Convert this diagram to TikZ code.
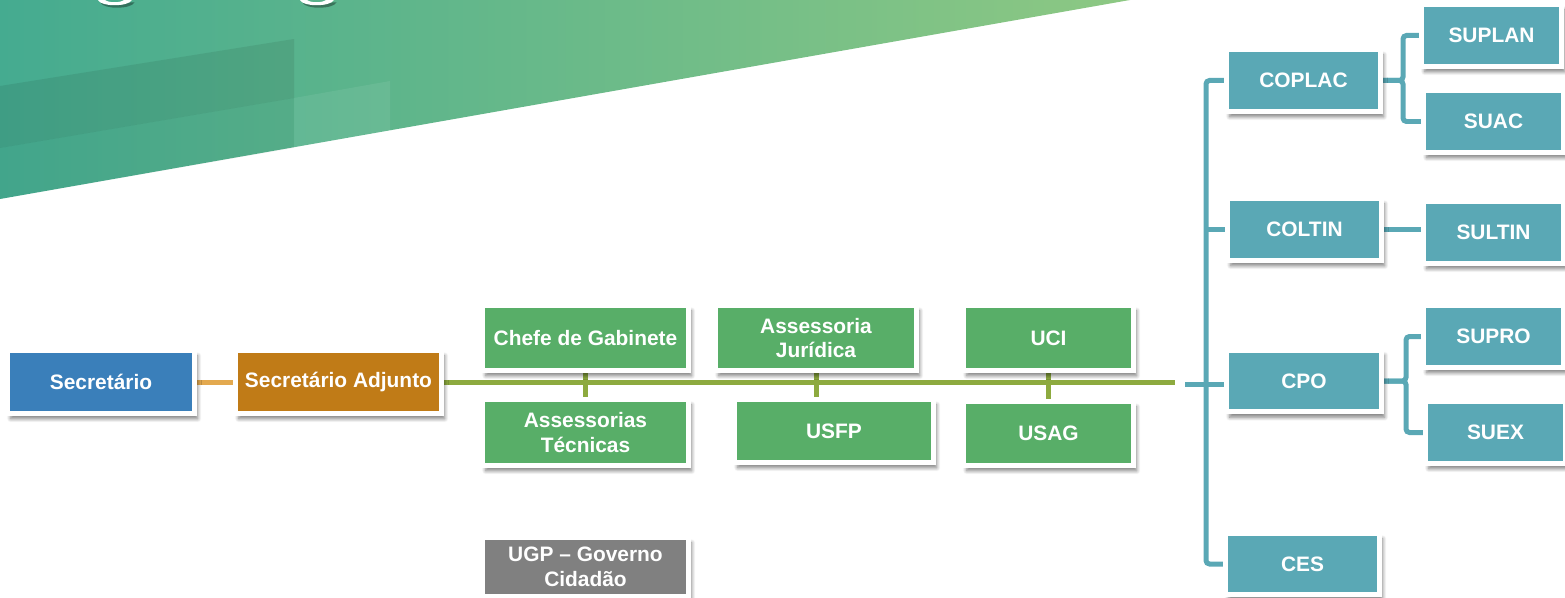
\documentclass[tikz,border=0pt]{standalone}
\usepackage{fontspec}
\setmainfont{Liberation Sans}
\usetikzlibrary{backgrounds,shadows.blur}

\definecolor{secblue}{HTML}{3A7FBA}
\definecolor{adjbrown}{HTML}{C07B17}
\definecolor{adjlink}{HTML}{E3A94F}
\definecolor{unitgreen}{HTML}{58AE68}
\definecolor{axisgreen}{HTML}{8DAA3F}
\definecolor{coordteal}{HTML}{5AA8B5}
\definecolor{ugpgray}{HTML}{808080}
\definecolor{bannerleft}{HTML}{45AB90}
\definecolor{bannerright}{HTML}{8DC883}

\tikzset{
  orgbox/.style={draw=white, line width=0.1cm, inner sep=0pt, align=center, text=white,
    font=\fontsize{11.9}{14.2}\selectfont\bfseries,
    blur shadow={shadow xshift=1.8pt, shadow yshift=-3pt, shadow blur steps=8, shadow opacity=50}},
  secbox/.style={orgbox, fill=secblue, minimum width=3.74cm, minimum height=1.26cm},
  adjbox/.style={orgbox, fill=adjbrown, minimum width=4.12cm, minimum height=1.26cm},
  unitbox/.style={orgbox, fill=unitgreen, minimum width=4.12cm, minimum height=1.3cm},
  ugpbox/.style={orgbox, fill=ugpgray, minimum width=4.12cm, minimum height=1.18cm},
  coordbox/.style={orgbox, fill=coordteal, minimum width=3.08cm, minimum height=1.24cm},
  subbox/.style={orgbox, fill=coordteal, minimum width=2.8cm, minimum height=1.24cm},
  adjline/.style={adjlink, line width=0.1cm},
  axisline/.style={axisgreen, line width=0.1cm},
  tealline/.style={coordteal, line width=0.1cm, rounded corners=2pt},
}

\begin{document}
\begin{tikzpicture}[x=0.02cm, y=-0.02cm]

\useasboundingbox (0,0) rectangle (1565,598);

% cabinet
\node[secbox] (sec) at (101,382) {Secretário};
\node[adjbox] (adj) at (338.5,382) {Secretário Adjunto};

% units along the axis
\node[unitbox] (chefe) at (585.5,338) {Chefe de Gabinete};
\node[unitbox, minimum width=4.02cm] (ajur) at (816,338) {Assessoria\\Jurídica};
\node[unitbox, minimum width=3.4cm] (uci) at (1048.5,338) {UCI};
\node[unitbox, minimum height=1.32cm] (asstec) at (585.5,432.5) {Assessorias\\Técnicas};
\node[unitbox, minimum width=3.98cm, minimum height=1.26cm] (usfp) at (834,431) {USFP};
\node[unitbox, minimum width=3.4cm, minimum height=1.28cm] (usag) at (1048.5,433.5) {USAG};
\node[ugpbox] (ugp) at (585.5,567) {UGP – Governo\\Cidadão};

% coordinations
\node[coordbox] (coplac) at (1303.5,80.5) {COPLAC};
\node[coordbox] (coltin) at (1304.5,229.5) {COLTIN};
\node[coordbox, minimum width=3.1cm] (cpo) at (1304,381) {CPO};
\node[coordbox, minimum height=1.22cm] (ces) at (1302.5,564) {CES};

% superintendences
\node[subbox] (suplan) at (1491.5,35.5) {SUPLAN};
\node[subbox] (suac) at (1493.5,121.5) {SUAC};
\node[subbox] (sultin) at (1493.5,232.5) {SULTIN};
\node[subbox] (supro) at (1493.5,336.5) {SUPRO};
\node[subbox] (suex) at (1495.5,432.5) {SUEX};

\coordinate (axisend) at (1175,382);
\coordinate (cpoin) at (1185,384);
\coordinate (bus) at (1206,0);

\begin{scope}[on background layer]
% banner
\shade[left color=bannerleft, right color=bannerright] (0,0) -- (1130,0) -- (0,199) -- cycle;
\fill[black, opacity=0.08] (0,86) -- (294,39) -- (294,98) -- (0,148) -- cycle;
\fill[black, opacity=0.03] (0,148) -- (294,98) -- (294,148) -- (0,199) -- cycle;
\fill[white, opacity=0.07] (294,98) -- (390,81) -- (390,131) -- (294,148) -- cycle;
\foreach \hx in {98,300}{
  \fill[black, opacity=0.35, xshift=2.5*0.02cm, yshift=-2.5*0.02cm]
    (\hx,0) .. controls (\hx+3,7) and (\hx+30,7) .. (\hx+34,0) -- (\hx+26,0)
    .. controls (\hx+22,3) and (\hx+11,3) .. (\hx+7,0) -- cycle;
  \fill[white]
    (\hx,0) .. controls (\hx+3,7) and (\hx+30,7) .. (\hx+34,0) -- (\hx+26,0)
    .. controls (\hx+22,3) and (\hx+11,3) .. (\hx+7,0) -- cycle;
}

% connectors
\draw[adjline] (sec) -- (adj);
\draw[axisline] (adj.east) -- (axisend);
\draw[axisline] (chefe.south) -- (chefe.south |- asstec.north);
\draw[axisline] (ajur.south) -- (ajur.south |- usfp.north);
\draw[axisline] (uci.south) -- (uci.south |- usag.north);

\draw[tealline] (coplac.west) -| (bus |- ces.west) -- (ces.west);
\draw[tealline] (coltin.west) -- (coltin.west -| bus);
\draw[tealline] (cpoin) -- (cpoin -| cpo.west);
\draw[tealline] (coplac.east) -- ++(20,0) |- (suplan.west);
\draw[tealline] (coplac.east) -- ++(20,0) |- (suac.west);
\draw[tealline] (coltin.east) -- (coltin.east -| sultin.west);
\draw[tealline] (cpo.east) -- ++(22,0) |- (supro.west);
\draw[tealline] (cpo.east) -- ++(22,0) |- (suex.west);
\end{scope}

\end{tikzpicture}
\end{document}
